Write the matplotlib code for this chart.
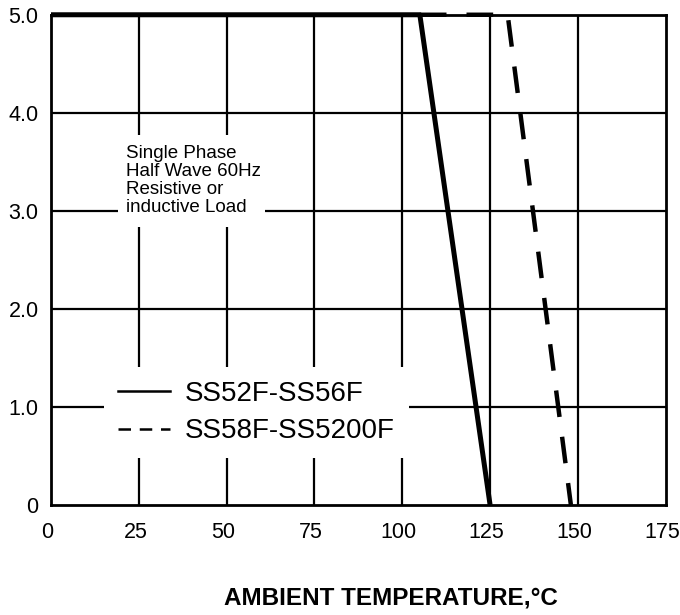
import matplotlib.pyplot as plt
from matplotlib.lines import Line2D
from matplotlib.patches import Rectangle
from matplotlib.transforms import ScaledTranslation

plt.rcParams['font.family'] = ['Liberation Sans', 'DejaVu Sans']

# derating curves (ambient temperature degC, average forward current A)
temp_a = [0, 105, 125]
amps_a = [5.0, 5.0, 0.0]
temp_b = [105, 130, 148]
amps_b = [5.0, 5.0, 0.0]

x_ticks = [0, 25, 50, 75, 100, 125, 150, 175]
y_ticks = [0, 1, 2, 3, 4, 5]
y_labels = ['0', '1.0', '2.0', '3.0', '4.0', '5.0']
series_names = ['SS52F-SS56F', 'SS58F-SS5200F']
note = 'Single Phase\nHalf Wave 60Hz\nResistive or\ninductive Load'

fig = plt.figure(figsize=(6.8, 6.15), dpi=100)
ax = fig.add_axes([0.075, 0.179, 0.904, 0.797])

# grid drawn by hand so it sits under the white boxes
for xv in x_ticks[1:-1]:
    ax.axvline(xv, color='black', lw=1.6, zorder=1)
for yv in y_ticks[1:-1]:
    ax.axhline(yv, color='black', lw=1.6, zorder=1)

ax.plot(temp_a, amps_a, color='black', lw=3.6, solid_capstyle='butt', zorder=5, clip_on=False)
ax.plot(temp_b, amps_b, color='black', lw=3.2, dashes=(6, 4.5), zorder=5, clip_on=False)

ax.set_xlim(0, 175)
ax.set_ylim(0, 5)
ax.set_xticks(x_ticks)
ax.set_yticks(y_ticks)
ax.set_yticklabels(y_labels)
ax.tick_params(length=0, labelsize=15.5)
ax.tick_params(axis='x', pad=12)
ax.tick_params(axis='y', pad=9)
shift = ScaledTranslation(-3.5 / 100, 0, fig.dpi_scale_trans)
for lab in ax.get_xticklabels():
    lab.set_transform(lab.get_transform() + shift)
for s in ax.spines.values():
    s.set_linewidth(2.0)

# note box
ax.add_patch(Rectangle((0.109, 0.567), 0.239, 0.188, transform=ax.transAxes,
                       facecolor='white', edgecolor='none', zorder=3))
ax.text(0.122, 0.662, note, transform=ax.transAxes, ha='left', va='center',
        fontsize=13.5, linespacing=1.08, zorder=4)

handles = [Line2D([], [], color='black', lw=1.8),
           Line2D([], [], color='black', lw=1.8, dashes=(5, 3.5))]
leg = ax.legend(handles, series_names, loc='upper left', bbox_to_anchor=(0.087, 0.282),
                fontsize=20, frameon=True, fancybox=False, handlelength=1.85,
                handletextpad=0.55, labelspacing=0.42, borderpad=0.5, borderaxespad=0)
leg.get_frame().set_facecolor('white')
leg.get_frame().set_edgecolor('none')
leg.get_frame().set_alpha(1)
leg.set_zorder(4)

fig.text(391 / 680, 1 - 598 / 615, 'AMBIENT TEMPERATURE,°C', ha='center', va='center',
         fontsize=17.5, fontweight='bold')

fig.savefig('out.png', dpi=100)
